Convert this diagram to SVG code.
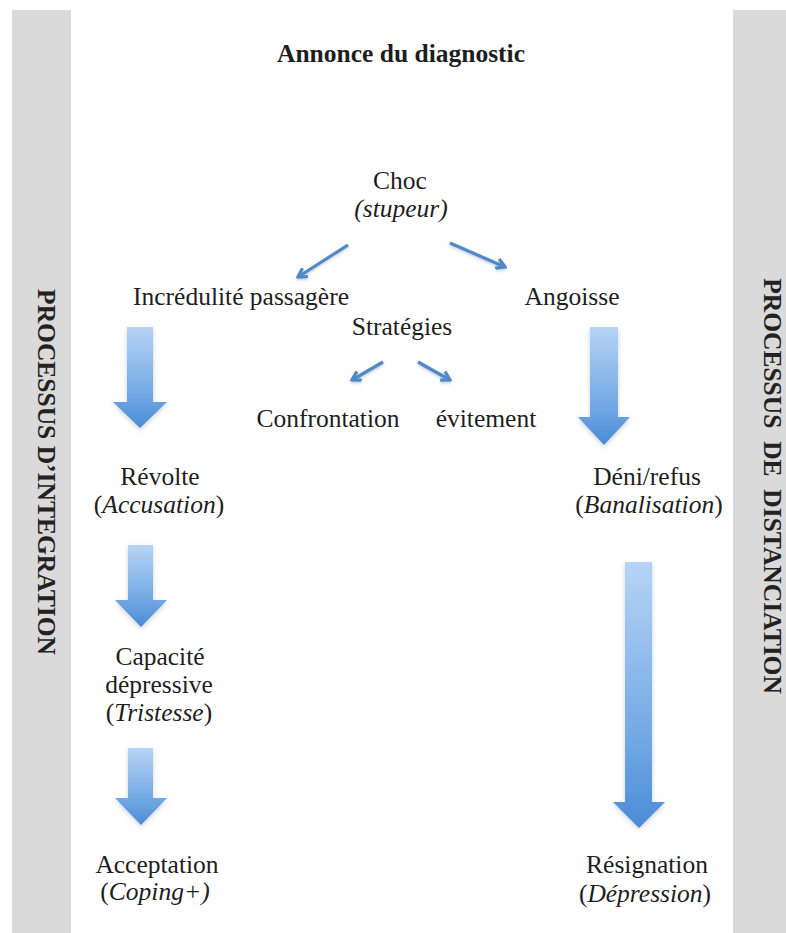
<svg xmlns="http://www.w3.org/2000/svg" width="786" height="933" viewBox="0 0 786 933">
<style>
.t{font-family:"Liberation Serif","Times New Roman",serif;font-size:25.5px;fill:#1e1e1e;text-anchor:middle}
.b{font-weight:bold}
.i{font-style:italic}
.v{font-family:"Liberation Serif","Times New Roman",serif;font-size:25.5px;font-weight:bold;fill:#222;text-anchor:middle}
.bar{fill:#dadada}
.ln{fill:none;stroke:#5089c8;stroke-width:3.2;marker-end:url(#v);filter:url(#sh)}
.blk{filter:url(#sh2)}
</style>
<defs>
<marker id="v" viewBox="0 0 12 12" refX="10" refY="6" markerWidth="12" markerHeight="12" markerUnits="userSpaceOnUse" orient="auto">
<path d="M1.5,1 L10,6 L1.5,11" fill="none" stroke="#5089c8" stroke-width="3.2" stroke-linejoin="miter"/>
</marker>
<linearGradient id="g" x1="0" y1="0" x2="0" y2="1">
<stop offset="0" stop-color="#b7d4f5"/>
<stop offset="0.7" stop-color="#6ea6e3"/>
<stop offset="1" stop-color="#4a8bd6"/>
</linearGradient>
<filter id="sh" x="-30%" y="-30%" width="160%" height="160%">
<feDropShadow dx="0" dy="1.5" stdDeviation="1.5" flood-color="#7a8ea8" flood-opacity="0.45"/>
</filter>
<filter id="sh2" x="-30%" y="-10%" width="160%" height="130%">
<feDropShadow dx="0" dy="2" stdDeviation="2.5" flood-color="#8a9db5" flood-opacity="0.45"/>
</filter>
</defs>
<rect width="786" height="933" fill="#ffffff"/>
<g id="bar-left">
<rect class="bar" x="12" y="10" width="59" height="923"/>
<text class="v" transform="translate(38,472) rotate(90)">PROCESSUS D’INTEGRATION</text>
</g>
<g id="bar-right">
<rect class="bar" x="733" y="10" width="53" height="923"/>
<text class="v" xml:space="preserve" transform="translate(764,486) rotate(90)">PROCESSUS  DE  DISTANCIATION</text>
</g>
<g id="connectors">
<path class="ln" d="M401,97 L401,145"/>
<path class="ln" d="M348,245 L298,277"/>
<path class="ln" d="M450,243 L505,267"/>
<path class="ln" d="M383,362 L352,380"/>
<path class="ln" d="M418,362 L450,380"/>
<polygon class="blk" fill="url(#g)" points="127,327 153,327 153,402 167,402 140,428 113,402 127,402"/>
<polygon class="blk" fill="url(#g)" points="128,545 153,545 153,600 167,600 141,627 115,600 128,600"/>
<polygon class="blk" fill="url(#g)" points="128,748 153,748 153,798 167,798 141,825 115,798 128,798"/>
<polygon class="blk" fill="url(#g)" points="590,327 618,327 618,417 630,417 604,445 578,417 590,417"/>
<polygon class="blk" fill="url(#g)" points="625,562 652,562 652,802 665,802 639,828 613,802 625,802"/>
</g>
<g id="n-annonce"><text class="t b" x="401" y="62">Annonce du diagnostic</text></g>
<g id="n-choc"><text class="t" x="400" y="189">Choc</text><text class="t i" x="401" y="217">(stupeur)</text></g>
<g id="n-incredulite"><text class="t" x="241" y="305">Incrédulité passagère</text></g>
<g id="n-angoisse"><text class="t" x="572" y="305">Angoisse</text></g>
<g id="n-strategies"><text class="t" x="402" y="335">Stratégies</text></g>
<g id="n-confrontation"><text class="t" x="328" y="427">Confrontation</text></g>
<g id="n-evitement"><text class="t" x="486" y="427">évitement</text></g>
<g id="n-revolte"><text class="t" x="160" y="485">Révolte</text><text class="t" x="159" y="513">(<tspan class="i">Accusation</tspan>)</text></g>
<g id="n-deni"><text class="t" x="647" y="485">Déni/refus</text><text class="t" x="649" y="513">(<tspan class="i">Banalisation</tspan>)</text></g>
<g id="n-capacite"><text class="t" x="160" y="665">Capacité</text><text class="t" x="159" y="693">dépressive</text><text class="t" x="159" y="721">(<tspan class="i">Tristesse</tspan>)</text></g>
<g id="n-acceptation"><text class="t" x="157" y="873">Acceptation</text><text class="t" x="155" y="900">(<tspan class="i">Coping+)</tspan></text></g>
<g id="n-resignation"><text class="t" x="647" y="873">Résignation</text><text class="t" x="645" y="902">(<tspan class="i">Dépression</tspan>)</text></g>
</svg>
